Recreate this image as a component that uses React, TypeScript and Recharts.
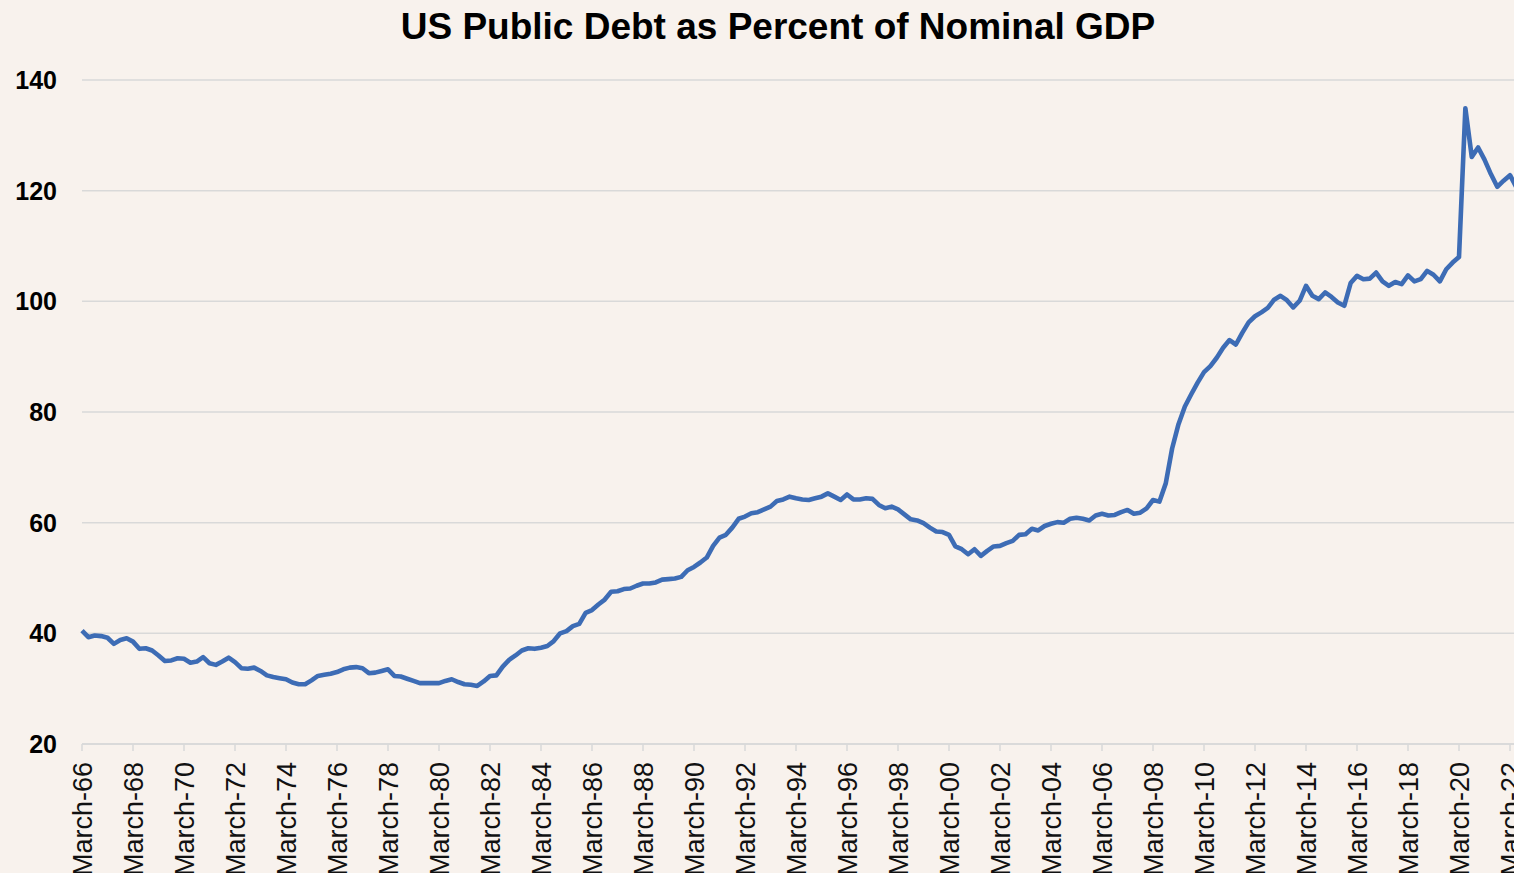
import React from 'react';
import { LineChart, Line, XAxis, YAxis, CartesianGrid } from 'recharts';

// quarterly public debt / nominal GDP (%), March-66 .. June-22
const debt1966to1969 = [40.5, 39.3, 39.6, 39.5, 39.2, 38.1, 38.8, 39.1, 38.5, 37.2, 37.3, 36.9, 36.0, 35.0, 35.1, 35.5];
const debt1970s = [
  35.4, 34.7, 34.9, 35.7, 34.6, 34.3, 34.9, 35.6, 34.8, 33.7, 33.6, 33.8, 33.2, 32.4, 32.1, 31.9, 31.7, 31.1, 30.8, 30.8,
  31.5, 32.3, 32.5, 32.7, 33.0, 33.5, 33.8, 33.9, 33.7, 32.8, 32.9, 33.2, 33.5, 32.3, 32.2, 31.8, 31.4, 31.0, 31.0, 31.0,
];
const debt1980s = [
  31.0, 31.4, 31.7, 31.2, 30.8, 30.7, 30.5, 31.3, 32.3, 32.4, 34.0, 35.2, 36.0, 36.9, 37.3, 37.2, 37.4, 37.7, 38.6, 40.0,
  40.4, 41.3, 41.7, 43.7, 44.2, 45.2, 46.1, 47.5, 47.6, 48.0, 48.1, 48.6, 49.0, 49.0, 49.2, 49.7, 49.8, 49.9, 50.2, 51.4,
];
const debt1990s = [
  52.0, 52.8, 53.7, 55.8, 57.3, 57.8, 59.1, 60.7, 61.1, 61.7, 61.9, 62.4, 62.9, 63.9, 64.2, 64.7, 64.4, 64.2, 64.1, 64.4,
  64.7, 65.3, 64.7, 64.1, 65.1, 64.2, 64.2, 64.4, 64.3, 63.2, 62.6, 62.9, 62.4, 61.5, 60.6, 60.4, 59.9, 59.1, 58.4, 58.3,
];
const debt2000s = [
  57.8, 55.7, 55.2, 54.3, 55.2, 54.0, 54.9, 55.7, 55.8, 56.3, 56.7, 57.8, 57.9, 58.9, 58.6, 59.4, 59.8, 60.1, 60.0, 60.7,
  60.9, 60.7, 60.4, 61.3, 61.6, 61.3, 61.4, 61.9, 62.3, 61.6, 61.8, 62.6, 64.1, 63.8, 67.1, 73.4, 77.8, 81.0, 83.2, 85.3,
];
const debt2010s = [
  87.2, 88.3, 89.8, 91.6, 93.0, 92.2, 94.3, 96.2, 97.3, 98.0, 98.8, 100.3, 101.0, 100.2, 98.9, 100.1, 102.8, 101.0, 100.4, 101.6,
  100.8, 99.8, 99.2, 103.3, 104.6, 104.0, 104.1, 105.2, 103.6, 102.8, 103.5, 103.1, 104.7, 103.6, 104.0, 105.5, 104.8, 103.6, 105.8, 107.0,
];
const debt2020s = [108.0, 134.9, 126.1, 127.8, 125.6, 123.0, 120.7, 121.8, 122.8, 120.6];

const months = ['March', 'June', 'September', 'December'];
const firstYear = 1966;
const yTicks = [20, 40, 60, 80, 100, 120, 140];

const values = [...debt1966to1969, ...debt1970s, ...debt1980s, ...debt1990s, ...debt2000s, ...debt2010s, ...debt2020s];
const data = values.map((v, i) => {
  const yy = String((firstYear + Math.floor(i / 4)) % 100).padStart(2, '0');
  return { q: `${months[i % 4]}-${yy}`, debt: v };
});

const FONT = '"Liberation Sans", Arial, sans-serif';

function XTick({ x, y, payload }: any) {
  return (
    <g transform={`translate(${x},${y})`}>
      <text transform="rotate(-90)" textAnchor="end" dy="0.36em" fontSize={27} fontFamily={FONT} fill="#111">
        {payload.value}
      </text>
    </g>
  );
}

function YTick({ x, y, payload }: any) {
  return (
    <text x={x} y={y} textAnchor="end" dy="0.36em" fontSize={25} fontWeight="bold" fontFamily={FONT} fill="#000">
      {payload.value}
    </text>
  );
}

export default function App() {
  return (
    <div style={{ position: 'absolute', left: 0, top: 0, width: 1514, height: 873, overflow: 'hidden', background: '#F8F2ED' }}>
      <div
        style={{
          position: 'absolute', left: 0, top: 8, width: 1556, textAlign: 'center',
          fontFamily: FONT, fontWeight: 'bold', fontSize: 37, lineHeight: '37px', color: '#000',
        }}
      >
        US Public Debt as Percent of Nominal GDP
      </div>
      <LineChart width={1530} height={873} data={data} margin={{ top: 80, right: 13.625, bottom: 0, left: 0 }}>
        <CartesianGrid vertical={false} stroke="#d9d9d9" strokeWidth={1.5} />
        <XAxis
          dataKey="q"
          interval={7}
          height={129}
          tickSize={7}
          tickMargin={11}
          tick={<XTick />}
          axisLine={{ stroke: '#d9d9d9', strokeWidth: 1.5 }}
          tickLine={{ stroke: '#d9d9d9', strokeWidth: 1.5 }}
        />
        <YAxis
          domain={[20, 140]}
          ticks={yTicks}
          width={82}
          tickSize={0}
          tickMargin={25}
          axisLine={false}
          tickLine={false}
          tick={<YTick />}
        />
        <Line type="linear" dataKey="debt" stroke="#3D6CB5" strokeWidth={4.6} dot={false} strokeLinejoin="round" isAnimationActive={false} />
      </LineChart>
    </div>
  );
}
